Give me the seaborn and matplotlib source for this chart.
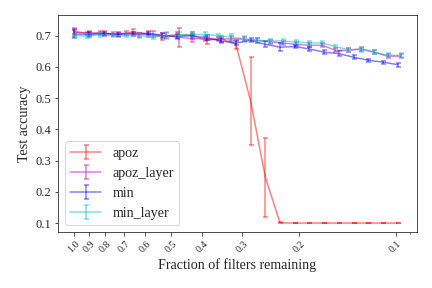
import numpy as np
import pandas as pd
import matplotlib
matplotlib.use("Agg")
import matplotlib.pyplot as plt
import seaborn as sns

# ---- data ----
frac_global = [0.9 ** k for k in range(23)]
frac_layer = [1.0 * 0.9107 ** k for k in range(26)]

apoz = [0.712, 0.708, 0.708, 0.703, 0.712, 0.705, 0.697, 0.703, 0.700, 0.685,
        0.690, 0.672, 0.490, 0.246, 0.101, 0.100, 0.100, 0.100, 0.100, 0.100,
        0.100, 0.100, 0.100]
apoz_err = [0.008, 0.006, 0.006, 0.006, 0.008, 0.010, 0.010, 0.010, 0.010, 0.012,
            0.010, 0.015, 0.140, 0.125, 0.002, 0.001, 0.001, 0.001, 0.001, 0.001,
            0.001, 0.001, 0.001]

minv = [0.705, 0.703, 0.706, 0.704, 0.706, 0.707, 0.700, 0.697, 0.700, 0.693,
        0.683, 0.676, 0.685, 0.672, 0.663, 0.665, 0.657, 0.647, 0.642, 0.631,
        0.621, 0.615, 0.607]
min_err = [0.012, 0.008, 0.006, 0.006, 0.006, 0.006, 0.008, 0.008, 0.006, 0.008,
           0.008, 0.006, 0.006, 0.010, 0.012, 0.006, 0.006, 0.006, 0.008, 0.006,
           0.005, 0.005, 0.006]

apoz_layer = [0.712, 0.707, 0.708, 0.705, 0.708, 0.703, 0.705, 0.700, 0.695, 0.690,
              0.690, 0.688, 0.690, 0.688, 0.685, 0.680, 0.676, 0.672, 0.669, 0.669,
              0.653, 0.653, 0.658, 0.647, 0.634, 0.634]
apoz_layer_err = [0.012, 0.006, 0.006, 0.006, 0.006, 0.006, 0.010, 0.008, 0.030, 0.012,
                  0.008, 0.006, 0.008, 0.006, 0.008, 0.006, 0.006, 0.006, 0.006, 0.006,
                  0.006, 0.006, 0.006, 0.006, 0.006, 0.006]

min_layer = [0.700, 0.698, 0.703, 0.700, 0.700, 0.700, 0.695, 0.700, 0.702, 0.704,
             0.704, 0.700, 0.695, 0.690, 0.685, 0.683, 0.683, 0.679, 0.677, 0.676,
             0.665, 0.655, 0.655, 0.647, 0.637, 0.637]
min_layer_err = [0.006, 0.006, 0.008, 0.006, 0.006, 0.008, 0.006, 0.010, 0.008, 0.008,
                 0.008, 0.006, 0.010, 0.010, 0.008, 0.006, 0.006, 0.006, 0.006, 0.006,
                 0.006, 0.006, 0.006, 0.006, 0.006, 0.006]

series = ["apoz", "apoz_layer", "min", "min_layer"]
colors = ["red", "m", "b", "c"]
tick_vals = [1.0, 0.9, 0.8, 0.7, 0.6, 0.5, 0.4, 0.3, 0.2, 0.1]
tick_labels = ["1.0", "0.9", "0.8", "0.7", "0.6", "0.5", "0.4", "0.3", "0.2", "0.1"]

sns.set_style("ticks")
plt.rcParams["font.family"] = ["Liberation Serif", "DejaVu Serif"]
plt.rcParams["mathtext.fontset"] = "stix"

data = {
    "apoz": (frac_global, apoz, apoz_err),
    "apoz_layer": (frac_layer, apoz_layer, apoz_layer_err),
    "min": (frac_global, minv, min_err),
    "min_layer": (frac_layer, min_layer, min_layer_err),
}

fig, ax = plt.subplots(figsize=(6, 4), dpi=72)
handles = []
for name, col in zip(series, colors):
    x, y, e = data[name]
    df = pd.DataFrame({"x": x, "y": y})
    sns.lineplot(data=df, x="x", y="y", ax=ax, color=col, alpha=0.5, lw=1.5,
                 legend=False)
    line = ax.lines[-1]
    eb = ax.errorbar(x, y, yerr=e, fmt="none", ecolor=col, alpha=0.5,
                     elinewidth=1.5, capsize=2.5, capthick=1.5)
    handles.append((line, eb))

ax.set_xscale("log")
ax.invert_xaxis()
ax.set_xticks(tick_vals)
ax.set_xticklabels(tick_labels, rotation=45, fontsize=10)
ax.xaxis.set_minor_formatter(matplotlib.ticker.NullFormatter())
ax.tick_params(axis="y", labelsize=12.5)
ax.set_ylim(0.071, 0.766)
ax.set_xlabel("Fraction of filters remaining", fontsize=14)
ax.set_ylabel("Test accuracy", fontsize=14)
ax.legend(handles, series, loc="lower left", fontsize=14, handlelength=2.2,
          labelspacing=0.5)

fig.subplots_adjust(left=0.134, right=0.965, top=0.948, bottom=0.194)
fig.savefig("out.png", dpi=72)
